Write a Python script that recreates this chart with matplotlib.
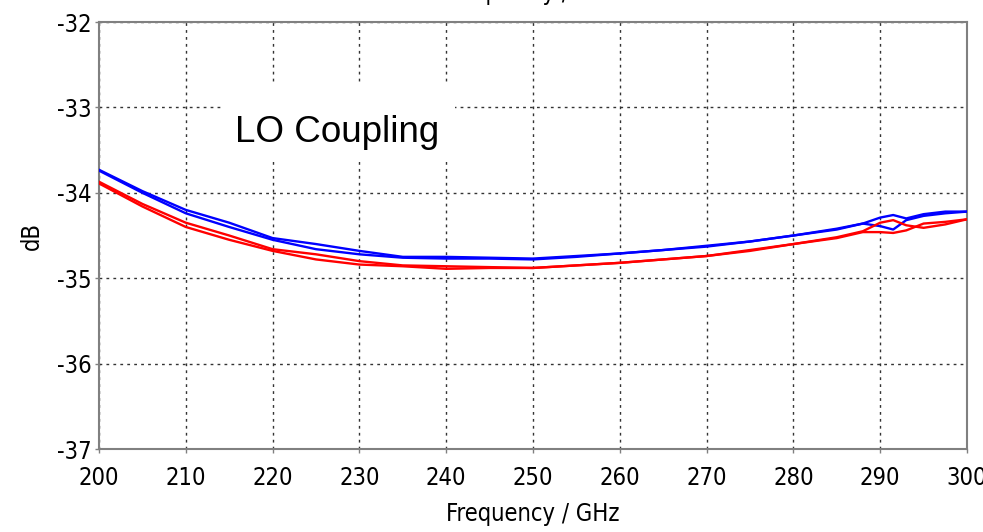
import matplotlib
matplotlib.use("Agg")
import matplotlib.pyplot as plt
from matplotlib.patches import Rectangle

freq = [200, 205, 210, 215, 220, 225, 230, 235, 240, 245, 250, 255, 260, 265,
        270, 275, 280, 285, 288, 290, 291.5, 293, 295, 297.5, 300]
blue_a = [-33.73, -33.98, -34.20, -34.35, -34.53, -34.60, -34.68, -34.75, -34.75,
          -34.76, -34.77, -34.74, -34.71, -34.67, -34.62, -34.57, -34.50, -34.42,
          -34.36, -34.29, -34.26, -34.30, -34.25, -34.22, -34.22]
blue_b = [-33.74, -34.00, -34.24, -34.40, -34.55, -34.66, -34.72, -34.76, -34.77,
          -34.77, -34.78, -34.75, -34.71, -34.67, -34.63, -34.57, -34.50, -34.43,
          -34.36, -34.39, -34.43, -34.32, -34.27, -34.24, -34.22]
red_a = [-33.87, -34.13, -34.35, -34.50, -34.66, -34.72, -34.80, -34.85, -34.86,
         -34.87, -34.88, -34.85, -34.82, -34.78, -34.74, -34.67, -34.60, -34.52,
         -34.45, -34.35, -34.32, -34.38, -34.41, -34.37, -34.31]
red_b = [-33.89, -34.16, -34.40, -34.55, -34.68, -34.78, -34.84, -34.86, -34.89,
         -34.88, -34.88, -34.85, -34.82, -34.78, -34.74, -34.68, -34.60, -34.53,
         -34.46, -34.46, -34.47, -34.44, -34.36, -34.34, -34.31]
xticks = [200, 210, 220, 230, 240, 250, 260, 270, 280, 290, 300]
yticks = [-37, -36, -35, -34, -33, -32]

tick_font = dict(family="DejaVu Sans", stretch="condensed")

fig = plt.figure(figsize=(9.83, 5.32), dpi=100)
ax = fig.add_axes([0.1007, 0.156, 0.883, 0.8026])

for y in (blue_a, blue_b):
    ax.plot(freq, y, color="#0000ff", lw=1.7, zorder=3)
for y in (red_a, red_b):
    ax.plot(freq, y, color="#ff0000", lw=1.7, zorder=3)

ax.set_xlim(200, 300)
ax.set_ylim(-37, -32)
ax.set_xticks(xticks)
ax.set_yticks(yticks)
ax.set_xticklabels([str(t) for t in xticks], fontsize=17, **tick_font)
ax.set_yticklabels([str(t) for t in yticks], fontsize=17, **tick_font)
ax.grid(True, color="#333333", linestyle=(0, (2, 3)), lw=1.0)
for s in ax.spines.values():
    s.set_color("#808080")
    s.set_linewidth(1.5)
ax.tick_params(length=3, width=1, color="#808080")
ax.tick_params(axis="x", pad=9)
ax.tick_params(axis="y", pad=2)
ax.set_xlabel("Frequency / GHz", fontsize=17, labelpad=9, **tick_font)
ax.set_ylabel("dB", fontsize=17, labelpad=10, **tick_font)

ax.add_patch(Rectangle((0.1429, 0.672), 0.267, 0.18, transform=ax.transAxes,
                       facecolor="white", edgecolor="none", zorder=2))
ax.text(0.1567, 0.719, "LO Coupling", transform=ax.transAxes, fontsize=26.5,
        family="Liberation Sans", va="baseline", ha="left", zorder=4)

fig.text(0.542, 1.013, "Frequency / GHz", fontsize=17, ha="center", va="center", **tick_font)

fig.savefig("out.png", dpi=100)
